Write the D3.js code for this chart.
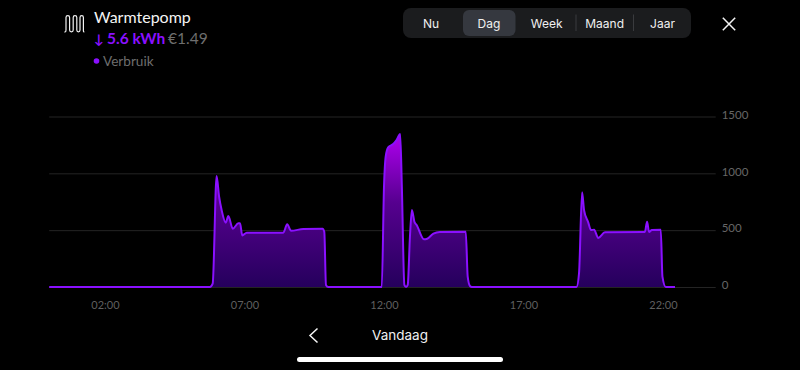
<!DOCTYPE html>
<html>
<head>
<meta charset="utf-8">
<script src="https://cdn.jsdelivr.net/npm/d3@7"></script>
<style>
html, body { margin: 0; background: #000; }
svg { display: block; }
.tick text { font-family: Lato, sans-serif; }
</style>
</head>
<body>
<div id="graph"></div>
<script>
// hours of the day and watts
var hours = [0, 5.76, 5.86, 6.0, 6.09, 6.18, 6.33, 6.42, 6.58, 6.78, 6.84, 6.92, 7.08, 8.39, 8.53, 8.67, 9.11, 9.8, 9.86, 9.92, 10.0,
	11.92, 12.0, 12.06, 12.15, 12.33, 12.45, 12.58, 12.64, 12.73, 12.79, 12.85, 12.93, 13.0, 13.09, 13.17, 13.43, 13.55, 13.77, 14.0, 14.93, 15.0, 15.08, 15.15,
	18.9, 18.99, 19.1, 19.17, 19.32, 19.42, 19.53, 19.68, 19.92, 21.29, 21.35, 21.43, 21.5, 21.6, 21.92, 21.98, 22.1, 22.43];
var watts = [0, 0, 30, 976, 794, 677, 566, 624, 513, 560, 560, 454, 478, 478, 551, 495, 510, 513, 486, 18, 0,
	0, 882, 1146, 1228, 1258, 1293, 1346, 882, 18, 0, 18, 442, 677, 574, 545, 420, 425, 469, 484, 486, 91, 9, 0,
	0, 120, 833, 677, 569, 501, 504, 431, 481, 484, 484, 574, 484, 501, 504, 91, 0, 0];

var xTicks = [2, 7, 12, 17, 22];
var xTickLabels = ["02:00", "07:00", "12:00", "17:00", "22:00"];
var yTicks = [0, 500, 1000, 1500];
var periods = ["Nu", "Dag", "Week", "Maand", "Jaar"];

var purple = "#8a10ff";

var svg = d3.select("#graph").append("svg")
	.attr("width", 800)
	.attr("height", 370);

var xScale = d3.scaleLinear().domain([0, 24]).range([49.2, 718.8]);
var yScale = d3.scaleLinear().domain([0, 1500]).range([287, 116.5]);

var data = hours.map(function(h, i){ return { h: h, w: watts[i] }; });

// gradient for the area
var grad = svg.append("defs").append("linearGradient")
	.attr("id", "fade")
	.attr("gradientUnits", "userSpaceOnUse")
	.attr("x1", 0).attr("x2", 0)
	.attr("y1", yScale(1350)).attr("y2", yScale(0));
grad.append("stop").attr("offset", "0%").attr("stop-color", "#b000f0");
grad.append("stop").attr("offset", "45%").attr("stop-color", "#56008f");
grad.append("stop").attr("offset", "100%").attr("stop-color", "#25005c");

// grid
var grid = d3.axisRight(yScale)
	.tickValues(yTicks)
	.tickSize(666.5)
	.tickFormat(function(d){ return d; });

var gridG = svg.append("g")
	.attr("transform", "translate(49.2,0)")
	.call(grid);
gridG.select(".domain").remove();
gridG.selectAll("line").attr("stroke", "#242424").attr("stroke-width", 1);
gridG.selectAll("text")
	.attr("x", 672.5)
	.attr("y", -2)
	.attr("dy", "0.32em")
	.attr("fill", "#666")
	.attr("font-size", 11.5);

var area = d3.area()
	.x(function(d){ return xScale(d.h); })
	.y0(yScale(0))
	.y1(function(d){ return yScale(d.w); })
	.curve(d3.curveMonotoneX);

var line = d3.line()
	.x(function(d){ return xScale(d.h); })
	.y(function(d){ return yScale(d.w); })
	.curve(d3.curveMonotoneX);

svg.append("path")
	.datum(data)
	.attr("fill", "url(#fade)")
	.attr("d", area);

svg.append("path")
	.datum(data)
	.attr("fill", "none")
	.attr("stroke", purple)
	.attr("stroke-width", 2)
	.attr("stroke-linejoin", "round")
	.attr("d", line);

// x axis
var xAxis = d3.axisBottom(xScale)
	.tickValues(xTicks)
	.tickSize(0)
	.tickFormat(function(d, i){ return xTickLabels[i]; });

var xG = svg.append("g")
	.attr("transform", "translate(0,298)")
	.call(xAxis);
xG.select(".domain").remove();
xG.selectAll("text")
	.attr("fill", "#5f5f5f")
	.attr("font-size", 11);

// header
svg.append("path")
	.attr("d", "M64.3,32 L65,32 C65.8,32 66,31 66,30 L66,17.5 C66,15 69.6,15 69.6,17.5 L69.6,30 C69.6,32.5 73.2,32.5 73.2,30 L73.2,17.5 C73.2,15 76.8,15 76.8,17.5 L76.8,30 C76.8,32.5 80,32.5 80,30 L80,17.5 C80,15 83.4,15 83.4,17.5 L83.4,31 C83.4,31.6 83.8,32 84.4,32")
	.attr("fill", "none")
	.attr("stroke", "#f2f2f2")
	.attr("stroke-width", 1.2);

svg.append("text")
	.attr("x", 94).attr("y", 23)
	.attr("font-family", "Lato, sans-serif")
	.attr("font-size", 16)
	.attr("fill", "#f4f4f4")
	.text("Warmtepomp");

var sub = svg.append("text")
	.attr("x", 94).attr("y", 44)
	.attr("font-family", "Lato, sans-serif")
	.attr("font-size", 15.5);
sub.append("tspan").attr("fill", purple).attr("font-weight", 700).attr("font-size", 13).text("↓");
sub.append("tspan").attr("x", 107).attr("fill", purple).attr("font-weight", 700).text("5.6 kWh");
sub.append("tspan").attr("x", 168).attr("fill", "#6e6e6e").text("€1.49");

svg.append("circle")
	.attr("cx", 96.5).attr("cy", 61).attr("r", 2.8)
	.attr("fill", purple);

svg.append("text")
	.attr("x", 103).attr("y", 66)
	.attr("font-family", "Lato, sans-serif")
	.attr("font-size", 13.6)
	.attr("fill", "#6e6e6e")
	.text("Verbruik");

// period switch
svg.append("rect")
	.attr("x", 403).attr("y", 8)
	.attr("width", 288).attr("height", 30)
	.attr("rx", 8)
	.attr("fill", "#1b1c1e");

svg.append("rect")
	.attr("x", 463).attr("y", 10)
	.attr("width", 52.5).attr("height", 26)
	.attr("rx", 6)
	.attr("fill", "#35383f");

var periodX = d3.scalePoint().domain(periods).range([431, 662.5]);

svg.selectAll(".period")
	.data(periods)
	.enter()
	.append("text")
	.attr("class", "period")
	.attr("x", function(d){ return periodX(d); })
	.attr("y", 28)
	.attr("text-anchor", "middle")
	.attr("font-family", "Inter, sans-serif")
	.attr("font-size", 12)
	.attr("fill", "#f0f0f0")
	.text(function(d){ return d; });

svg.selectAll(".divider")
	.data([576, 633.5])
	.enter()
	.append("line")
	.attr("class", "divider")
	.attr("x1", function(d){ return d; })
	.attr("x2", function(d){ return d; })
	.attr("y1", 14.5).attr("y2", 31)
	.attr("stroke", "#3a3b3e");

// close and back
svg.append("path")
	.attr("d", "M722.8,17.8 L735.2,30.2 M735.2,17.8 L722.8,30.2")
	.attr("stroke", "#f4f4f4")
	.attr("stroke-width", 1.5)
	.attr("fill", "none");

svg.append("path")
	.attr("d", "M317.5,328.5 L310,335.5 L317.5,342.5")
	.attr("stroke", "#f4f4f4")
	.attr("stroke-width", 1.5)
	.attr("fill", "none");

svg.append("text")
	.attr("x", 400).attr("y", 340)
	.attr("text-anchor", "middle")
	.attr("font-family", "Inter, sans-serif")
	.attr("font-size", 13.5)
	.attr("fill", "#f0f0f0")
	.text("Vandaag");

svg.append("rect")
	.attr("x", 297).attr("y", 357)
	.attr("width", 206).attr("height", 5)
	.attr("rx", 2.5)
	.attr("fill", "#fff");
</script>
</body>
</html>
